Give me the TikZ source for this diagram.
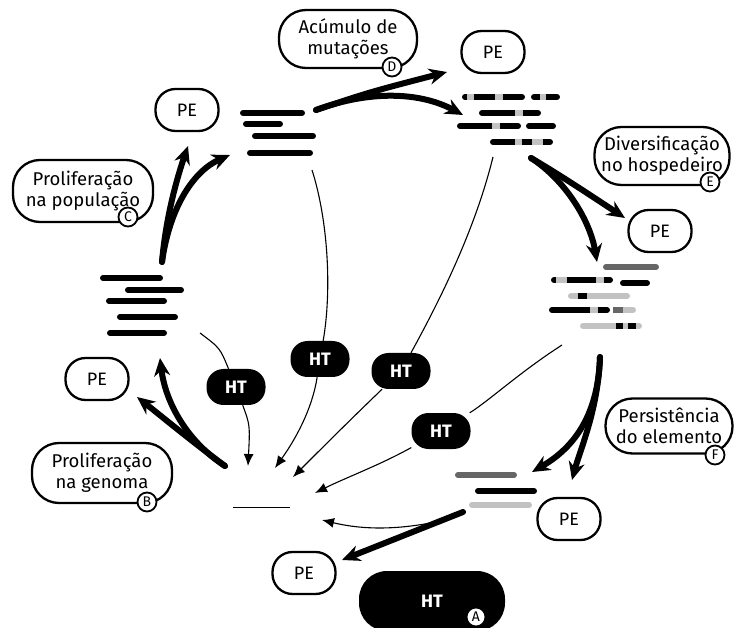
\documentclass[tikz,border=0pt]{standalone}
\usepackage{fontspec}
\setmainfont{Fira Sans}
\usetikzlibrary{arrows.meta,backgrounds}
\definecolor{escuro}{gray}{0.4}
\definecolor{claro}{gray}{0.76}
\begin{document}
\begin{tikzpicture}[x=1pt,y=-1pt,
    pe/.style={draw,line width=2.3pt,rounded corners=20pt,minimum width=63pt,minimum height=42pt,font=\fontsize{18}{20}\selectfont},
    rotulo/.style={draw,line width=2.3pt,rounded corners=27pt,align=center,inner sep=0pt,font=\fontsize{18.5}{21.5}\selectfont},
    letra/.style={draw,circle,fill=white,line width=1.8pt,minimum size=19pt,inner sep=0pt,font=\fontsize{14}{14}\selectfont},
    ht/.style={fill=black,text=white,rounded corners=17pt,minimum width=59pt,minimum height=36pt,font=\fontsize{18}{20}\selectfont\bfseries},
    fio/.style={line width=1.1pt,-{Latex[length=12pt,width=10pt]}},
    seta/.style={line width=6pt,line cap=round,-{Stealth[length=18pt,width=16pt]}},
    barra/.style={line width=6pt,line cap=round},
    corte/.style={line width=6pt,line cap=butt}]
    \useasboundingbox (0,0) rectangle (734,628);

    % elementos PE
    \node[pe] (pe1) at (187,110) {PE};
    \node[pe] (pe2) at (493,52) {PE};
    \node[pe] (pe3) at (660,231) {PE};
    \node[pe] (pe4) at (97,379) {PE};
    \node[pe] (pe5) at (569,519) {PE};
    \node[pe] (pe6) at (304,573) {PE};

    % etapas
    \node[rotulo,minimum width=138pt,minimum height=58pt] (acumulo) at (348,39) {Acúmulo de\\mutações};
    \node[letra] (d) at (392,67) {D};
    \node[rotulo,minimum width=140pt,minimum height=62pt] (populacao) at (83,191) {Proliferação\\na população};
    \node[letra] (c) at (128,217) {C};
    \node[rotulo,minimum width=135pt,minimum height=58pt] (diversif) at (662,156) {Diversificação\\no hospedeiro};
    \node[letra] (e) at (710,182) {E};
    \node[rotulo,minimum width=140pt,minimum height=60pt] (genoma) at (102,473) {Proliferação\\na genoma};
    \node[letra] (b) at (147,502) {B};
    \node[rotulo,minimum width=127pt,minimum height=55pt] (persist) at (669,426) {Persistência\\do elemento};
    \node[letra] (f) at (715,455) {F};

    % transferencias horizontais
    \node[ht] (ht1) at (236,387) {HT};
    \node[ht] (ht2) at (320,359) {HT};
    \node[ht] (ht3) at (401,371) {HT};
    \node[ht] (ht4) at (441,431) {HT};
    \node[ht,minimum width=146pt,minimum height=60pt,rounded corners=28pt] (hta) at (432,601) {HT};
    \node[letra] (a) at (476,617) {A};

    \coordinate (de1) at (200,333);
    \coordinate (de2) at (312,170);
    \coordinate (de3) at (493,157);
    \coordinate (de4) at (562,345);
    \coordinate (de5) at (440,521);
    \coordinate (para1) at (248,466);
    \coordinate (para2) at (275,468);
    \coordinate (para3) at (293,477);
    \coordinate (para4) at (315,493);
    \coordinate (para5) at (322,520);

    \begin{scope}[on background layer]
        \draw[line width=1.1pt] (de1) .. controls (220,348) .. (ht1);
        \draw[fio] (ht1) .. controls (250,425) .. (para1);
        \draw[line width=1.1pt] (de2) .. controls (328,220) and (332,290) .. (ht2);
        \draw[fio] (ht2) .. controls (312,410) and (295,440) .. (para2);
        \draw[line width=1.1pt] (de3) .. controls (475,230) and (440,300) .. (ht3);
        \draw[fio] (ht3) .. controls (350,420) and (320,450) .. (para3);
        \draw[line width=1.1pt] (de4) .. controls (520,372) and (490,400) .. (ht4);
        \draw[fio] (ht4) .. controls (380,465) and (345,478) .. (para4);
        \draw[fio] (de5) .. controls (390,532) and (355,528) .. (para5);
    \end{scope}
    \draw[line width=1pt] (233,507) -- (290,507);

    % setas grossas
    \coordinate (c0) at (162,262);
    \coordinate (c1) at (188,146);
    \coordinate (c2) at (230,155);
    \draw[seta] (c0) .. controls (166,215) and (178,175) .. (c1);
    \draw[seta] (c0) .. controls (170,205) and (195,170) .. (c2);

    \coordinate (d0) at (316,110);
    \coordinate (d1) at (447,72);
    \coordinate (d2) at (463,115);
    \draw[seta] (d0) .. controls (370,92) .. (d1);
    \draw[seta] (d0) .. controls (370,90) and (420,92) .. (d2);

    \coordinate (e0) at (531,158);
    \coordinate (e1) at (625,218);
    \coordinate (e2) at (597,262);
    \draw[seta] (e0) .. controls (560,175) and (590,195) .. (e1);
    \draw[seta] (e0) .. controls (565,180) and (590,220) .. (e2);

    \coordinate (f0) at (600,357);
    \coordinate (f1) at (532,472);
    \coordinate (f2) at (572,480);
    \draw[seta] (f0) .. controls (598,420) and (570,450) .. (f1);
    \draw[seta] (f0) .. controls (598,410) and (580,450) .. (f2);

    \coordinate (b0) at (225,466);
    \coordinate (b1) at (137,397);
    \coordinate (b2) at (160,358);
    \draw[seta] (b0) .. controls (190,440) and (160,415) .. (b1);
    \draw[seta] (b0) .. controls (185,440) and (165,400) .. (b2);

    \coordinate (a0) at (463,512);
    \coordinate (a1) at (342,560);
    \draw[seta] (a0) -- (a1);

    % copias do elemento
    \foreach \xa/\xb/\y in {243/302/113, 246/280/124, 255/313/136, 250/310/153}
        \draw[barra] (\xa,\y) -- (\xb,\y);
    \foreach \xa/\xb/\y in {103/160/278, 128/181/290, 109/164/301, 120/175/317, 110/164/333}
        \draw[barra] (\xa,\y) -- (\xb,\y);

    % copias com mutacoes
    \draw[barra] (465,97) -- (522,97);
    \draw[corte,claro] (467,97) -- (474,97) (495,97) -- (503,97);
    \draw[barra] (534,97) -- (557,97);
    \draw[corte,claro] (540,97) -- (546,97);
    \draw[barra] (482,113) -- (538,113);
    \draw[corte,claro] (515,113) -- (523,113);
    \draw[barra] (460,126) -- (518,126);
    \draw[corte,claro] (492,126) -- (500,126);
    \draw[barra] (529,126) -- (553,126);
    \draw[barra] (493,142) -- (550,142);
    \draw[corte,claro] (515,142) -- (522,142) (532,142) -- (543,142);

    % copias diversificadas
    \draw[barra,escuro] (606,267) -- (656,267);
    \draw[barra] (554,280) -- (610,280);
    \draw[corte,claro] (556,280) -- (567,280) (596,280) -- (604,280);
    \draw[barra] (623,283) -- (647,283);
    \draw[barra,claro] (571,296) -- (627,296);
    \draw[corte] (578,296) -- (587,296);
    \draw[barra] (552,310) -- (607,310);
    \draw[corte,claro] (590,310) -- (598,310);
    \draw[barra,claro] (616,310) -- (633,310);
    \draw[corte,escuro] (613,310) -- (623,310);
    \draw[barra,claro] (583,326) -- (639,326);
    \draw[corte] (616,326) -- (623,326) (628,326) -- (636,326);

    % copias persistentes
    \draw[barra,escuro] (458,475) -- (514,475);
    \draw[barra] (478,491) -- (534,491);
    \draw[barra,claro] (472,505) -- (529,505);
\end{tikzpicture}
\end{document}
